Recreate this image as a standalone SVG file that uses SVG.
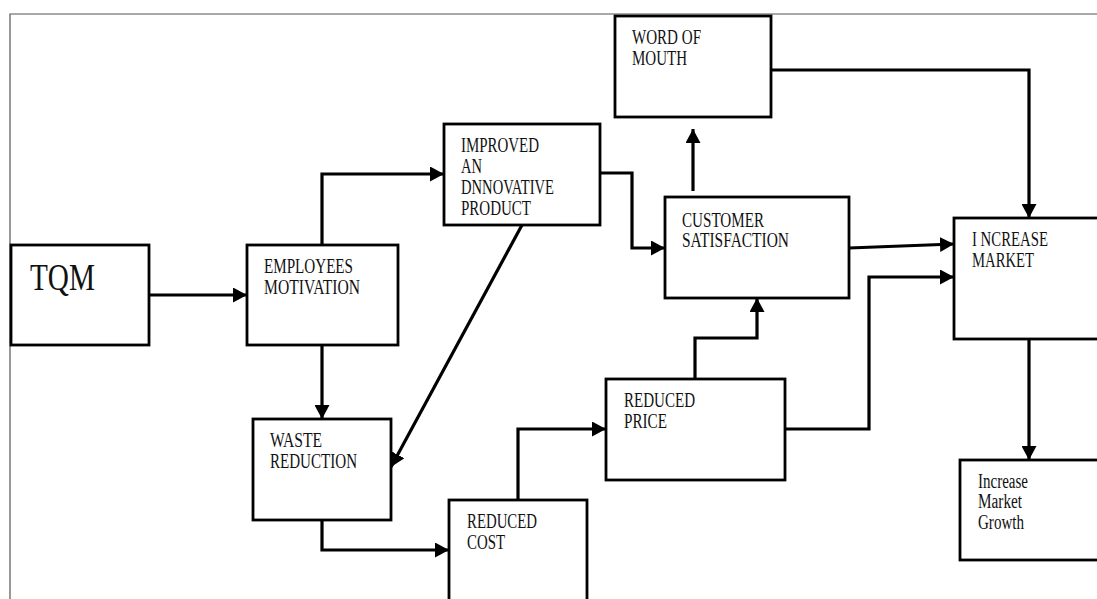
<svg xmlns="http://www.w3.org/2000/svg" width="1097" height="599" viewBox="0 0 1097 599">
<style>
.box{fill:#fff;stroke:#000;stroke-width:2.8}
.con{fill:none;stroke:#000;stroke-width:3.2;marker-end:url(#ah)}
.t{font-family:"Liberation Serif","Times New Roman",serif;font-size:20px;fill:#111}
.frame{fill:none;stroke:#555;stroke-width:1.2}
</style>
<defs>
<marker id="ah" markerUnits="userSpaceOnUse" markerWidth="14" markerHeight="15" refX="14" refY="7.5" orient="auto">
<path d="M0,0 L14,7.5 L0,15 z" fill="#000"/>
</marker>
</defs>
<rect width="1097" height="599" fill="#fff"/>
<path class="frame" d="M10,599 V14 H1097"/>
<g id="connectors">
<path class="con" d="M149,295 H247"/>
<path class="con" d="M322,245 V174 H444"/>
<path class="con" d="M322,345 V419"/>
<path class="con" d="M600,173 H632 V248 H665"/>
<path class="con" d="M522,225 L391,467"/>
<path class="con" d="M322,520 V550 H449"/>
<path class="con" d="M518,500 V429 H606"/>
<path class="con" d="M695,379 V338 H757 V298"/>
<path class="con" d="M693,191 V129"/>
<path class="con" d="M771,70 H1029 V218"/>
<path class="con" d="M849,248 L954,244"/>
<path class="con" d="M785,429 H869 V277 H954"/>
<path class="con" d="M1029,339 V460"/>
</g>
<g id="tqm">
<rect class="box" x="11" y="245" width="138" height="100"/>
<text class="t" x="30" y="290" style="font-size:37px" textLength="65" lengthAdjust="spacingAndGlyphs">TQM</text>
</g>
<g id="employees">
<rect class="box" x="247" y="245" width="151" height="100"/>
<text class="t" x="264" y="273" textLength="89" lengthAdjust="spacingAndGlyphs">EMPLOYEES</text>
<text class="t" x="264" y="294" textLength="96" lengthAdjust="spacingAndGlyphs">MOTIVATION</text>
</g>
<g id="improved">
<rect class="box" x="444" y="124" width="156" height="101"/>
<text class="t" x="461" y="152" textLength="78" lengthAdjust="spacingAndGlyphs">IMPROVED</text>
<text class="t" x="461" y="173" textLength="21" lengthAdjust="spacingAndGlyphs">AN</text>
<text class="t" x="461" y="194" textLength="93" lengthAdjust="spacingAndGlyphs">DNNOVATIVE</text>
<text class="t" x="461" y="215" textLength="70" lengthAdjust="spacingAndGlyphs">PRODUCT</text>
</g>
<g id="word-of-mouth">
<rect class="box" x="615" y="16" width="156" height="101"/>
<text class="t" x="632" y="44" textLength="69" lengthAdjust="spacingAndGlyphs">WORD OF</text>
<text class="t" x="632" y="65" textLength="55" lengthAdjust="spacingAndGlyphs">MOUTH</text>
</g>
<g id="customer">
<rect class="box" x="665" y="197" width="184" height="101"/>
<text class="t" x="682" y="227" textLength="82" lengthAdjust="spacingAndGlyphs">CUSTOMER</text>
<text class="t" x="682" y="247" textLength="107" lengthAdjust="spacingAndGlyphs">SATISFACTION</text>
</g>
<g id="increase-market">
<rect class="box" x="954" y="218" width="160" height="121"/>
<text class="t" x="972" y="246" textLength="76" lengthAdjust="spacingAndGlyphs">I NCREASE</text>
<text class="t" x="972" y="267" textLength="62" lengthAdjust="spacingAndGlyphs">MARKET</text>
</g>
<g id="waste">
<rect class="box" x="253" y="419" width="138" height="101"/>
<text class="t" x="270" y="447" textLength="52" lengthAdjust="spacingAndGlyphs">WASTE</text>
<text class="t" x="270" y="468" textLength="87" lengthAdjust="spacingAndGlyphs">REDUCTION</text>
</g>
<g id="reduced-cost">
<rect class="box" x="449" y="500" width="138" height="110"/>
<text class="t" x="467" y="528" textLength="70" lengthAdjust="spacingAndGlyphs">REDUCED</text>
<text class="t" x="467" y="549" textLength="38" lengthAdjust="spacingAndGlyphs">COST</text>
</g>
<g id="reduced-price">
<rect class="box" x="606" y="379" width="179" height="101"/>
<text class="t" x="624" y="407" textLength="71" lengthAdjust="spacingAndGlyphs">REDUCED</text>
<text class="t" x="624" y="428" textLength="43" lengthAdjust="spacingAndGlyphs">PRICE</text>
</g>
<g id="market-growth">
<rect class="box" x="960" y="460" width="160" height="100"/>
<text class="t" x="978" y="488" textLength="50" lengthAdjust="spacingAndGlyphs">Increase</text>
<text class="t" x="978" y="508" textLength="44" lengthAdjust="spacingAndGlyphs">Market</text>
<text class="t" x="978" y="529" textLength="46" lengthAdjust="spacingAndGlyphs">Growth</text>
</g>
</svg>
